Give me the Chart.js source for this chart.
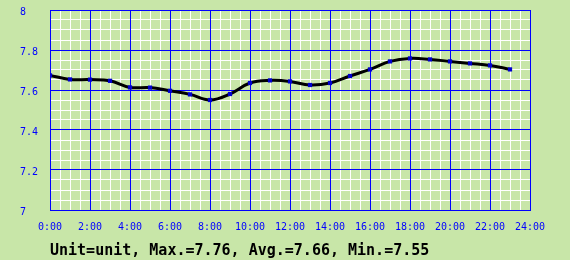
<!DOCTYPE html>
<html>
<head>
<meta charset="utf-8">
<script src="https://cdn.jsdelivr.net/npm/chart.js@4/dist/chart.umd.min.js"></script>
<style>
html,body{margin:0;padding:0;background:#c8e6a8;}
canvas{display:block;background:#c8e6a8;}
</style>
</head>
<body>
<canvas id="c" width="570" height="260"></canvas>
<script>
// Data
const hours = [0,1,2,3,4,5,6,7,8,9,10,11,12,13,14,15,16,17,18,19,20,21,22,23];
const values = [7.673,7.653,7.652,7.646,7.613,7.612,7.596,7.578,7.550,7.580,7.635,7.648,7.643,7.625,7.635,7.670,7.703,7.743,7.758,7.753,7.743,7.733,7.723,7.703];
const xTickLabels = ['0:00','2:00','4:00','6:00','8:00','10:00','12:00','14:00','16:00','18:00','20:00','22:00','24:00'];
const yTickLabels = ['7','7.2','7.4','7.6','7.8','8'];
const summaryText = 'Unit=unit, Max.=7.76, Avg.=7.66, Min.=7.55';

const BLUE = '#0000ff';
const WHITE = '#ffffff';
const MONO = "'DejaVu Sans Mono', 'Liberation Mono', monospace";

const points = hours.map((h, i) => ({x: h, y: values[i]}));

const isMajorX = v => Math.abs(v / 2 - Math.round(v / 2)) < 1e-6;
const isMajorY = v => Math.abs((v - 7) / 0.2 - Math.round((v - 7) / 0.2)) < 1e-6;

new Chart(document.getElementById('c'), {
  type: 'line',
  data: {
    datasets: [{
      data: points,
      xAxisID: 'x',
      yAxisID: 'y',
      borderColor: '#000000',
      borderWidth: 3,
      tension: 0.4,
      pointStyle: 'rect',
      pointRadius: 3,
      pointBorderWidth: 0,
      pointBackgroundColor: '#0000cc',
      pointBorderColor: '#0000cc'
    }]
  },
  options: {
    responsive: false,
    animation: false,
    events: [],
    layout: {padding: {left: 20, right: 40, top: 10, bottom: 0}},
    plugins: {legend: {display: false}, tooltip: {enabled: false}},
    scales: {
      xMinor: {
        type: 'linear', position: 'bottom', min: 0, max: 24, z: -1,
        ticks: {display: false, stepSize: 0.5, maxTicksLimit: 1000},
        grid: {
          color: c => (c.tick && isMajorX(c.tick.value)) ? 'rgba(0,0,0,0)' : WHITE,
          lineWidth: 1, drawTicks: false
        },
        border: {display: false},
        afterFit: s => { s.height = 0; s.paddingLeft = 0; s.paddingRight = 0; }
      },
      yMinor: {
        type: 'linear', position: 'left', min: 7, max: 8, z: -1,
        ticks: {display: false, stepSize: 0.05, maxTicksLimit: 1000},
        grid: {
          color: c => (c.tick && isMajorY(c.tick.value)) ? 'rgba(0,0,0,0)' : WHITE,
          lineWidth: 1, drawTicks: false
        },
        border: {display: false},
        afterFit: s => { s.width = 0; s.paddingTop = 0; s.paddingBottom = 0; }
      },
      x: {
        type: 'linear', position: 'bottom', min: 0, max: 24,
        ticks: {
          stepSize: 2, maxRotation: 0, autoSkip: false, padding: 11,
          color: BLUE, font: {family: MONO, size: 10},
          callback: (v) => xTickLabels[Math.round(v / 2)]
        },
        grid: {color: BLUE, lineWidth: 1, drawTicks: false},
        border: {color: BLUE},
        title: {
          display: true, text: summaryText, align: 'start', color: '#000000',
          font: {family: MONO, size: 15, weight: 'bold'},
          padding: {top: 5, bottom: 0}
        },
        afterFit: s => { s.height = 50; s.paddingLeft = 0; s.paddingRight = 0; }
      },
      y: {
        type: 'linear', position: 'left', min: 7, max: 8,
        ticks: {
          stepSize: 0.2, crossAlign: 'far', labelOffset: 2, padding: 12,
          color: BLUE, font: {family: MONO, size: 10},
          callback: (v) => yTickLabels[Math.round((v - 7) / 0.2)]
        },
        grid: {color: BLUE, lineWidth: 1, drawTicks: false},
        border: {color: BLUE},
        afterFit: s => { s.width = 30; s.paddingTop = 0; s.paddingBottom = 0; }
      }
    }
  }
});
</script>
</body>
</html>
